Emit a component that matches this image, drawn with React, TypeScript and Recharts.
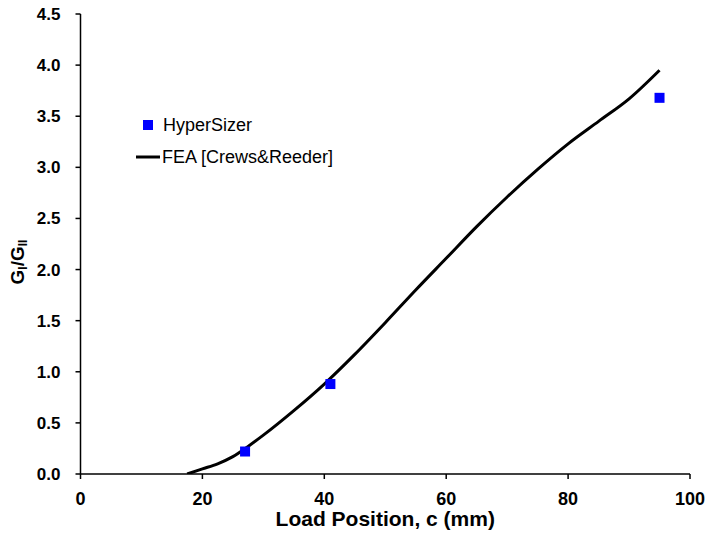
import React from 'react';
import { ComposedChart, Line, Scatter, XAxis, YAxis, Legend } from 'recharts';

const feaX = [17.5, 20, 22.5, 25, 27.5, 30, 35, 40, 45, 50, 55, 60, 65, 70, 75, 80, 85, 90, 95];
const feaY = [0, 0.05, 0.1, 0.17, 0.27, 0.38, 0.62, 0.88, 1.17, 1.48, 1.8, 2.11, 2.42, 2.71, 2.98, 3.23, 3.45, 3.67, 3.95];

const hyperX = [27, 41, 95];
const hyperY = [0.22, 0.88, 3.68];

const xTicks = [0, 20, 40, 60, 80, 100];
const yTicks = [0, 0.5, 1, 1.5, 2, 2.5, 3, 3.5, 4, 4.5];

const feaData = feaX.map((x, i) => ({ x, y: feaY[i] }));
const hyperData = hyperX.map((x, i) => ({ x, y: hyperY[i] }));

const FONT = '"Liberation Sans", Arial, sans-serif';

const Square = (props: any) => {
  const { cx, cy } = props;
  return <rect x={cx - 5} y={cy - 5} width={10} height={10} fill="#0000ff" />;
};

const YLabel = () => {
  const cx = 24;
  const cy = 262;
  return (
    <text
      x={cx}
      y={cy}
      transform={`rotate(-90, ${cx}, ${cy})`}
      textAnchor="middle"
      fontFamily={FONT}
      fontWeight="bold"
      fontSize={19}
      fill="#000"
    >
      <tspan>G</tspan>
      <tspan fontSize={12} dy={3}>I</tspan>
      <tspan fontSize={19} dy={-3}>/G</tspan>
      <tspan fontSize={12} dy={3}>II</tspan>
    </text>
  );
};

const XLabel = (props: any) => {
  const vb = props.viewBox || {};
  return (
    <text
      x={vb.x + vb.width / 2}
      y={526}
      textAnchor="middle"
      fontFamily={FONT}
      fontWeight="bold"
      fontSize={21}
      fill="#000"
    >
      Load Position, c (mm)
    </text>
  );
};

const LegendContent = () => (
  <svg width={250} height={70} style={{ display: 'block' }}>
    <rect x={13} y={12} width={10} height={10} fill="#0000ff" />
    <text x={33} y={23} fontFamily={FONT} fontSize={18} fill="#000">HyperSizer</text>
    <line x1={6} y1={49} x2={30} y2={49} stroke="#000" strokeWidth={3} />
    <text x={32} y={55} fontFamily={FONT} fontSize={18} fill="#000">FEA [Crews&amp;Reeder]</text>
  </svg>
);

export default function App() {
  return (
    <div style={{ position: 'absolute', left: 0, top: 0 }}>
      <ComposedChart
        width={707}
        height={540}
        margin={{ top: 14, right: 17, left: 0, bottom: 0 }}
      >
        <XAxis
          dataKey="x"
          type="number"
          domain={[0, 100]}
          ticks={xTicks}
          allowDataOverflow
          stroke="#000"
          strokeWidth={1.5}
          tickSize={5}
          tickMargin={13}
          height={66}
          tick={{ fontFamily: FONT, fontWeight: 'bold', fontSize: 18, fill: '#000' }}
          label={<XLabel />}
        />
        <YAxis
          dataKey="y"
          type="number"
          domain={[0, 4.5]}
          ticks={yTicks}
          allowDataOverflow
          width={80.5}
          stroke="#000"
          strokeWidth={1.5}
          tickSize={5}
          tickMargin={15}
          tickFormatter={(v: number) => v.toFixed(1)}
          tick={{ fontFamily: FONT, fontWeight: 'bold', fontSize: 17, fill: '#000' }}
          label={<YLabel />}
        />
        <Legend
          layout="horizontal"
          verticalAlign="middle"
          align="center"
          content={<LegendContent />}
          wrapperStyle={{ position: 'absolute', left: 130, top: 108, width: 250, height: 70 }}
        />
        <Line
          data={feaData}
          dataKey="y"
          type="monotone"
          stroke="#000"
          strokeWidth={3}
          dot={false}
          isAnimationActive={false}
          legendType="line"
        />
        <Scatter
          data={hyperData}
          dataKey="y"
          shape={<Square />}
          isAnimationActive={false}
        />
      </ComposedChart>
    </div>
  );
}
